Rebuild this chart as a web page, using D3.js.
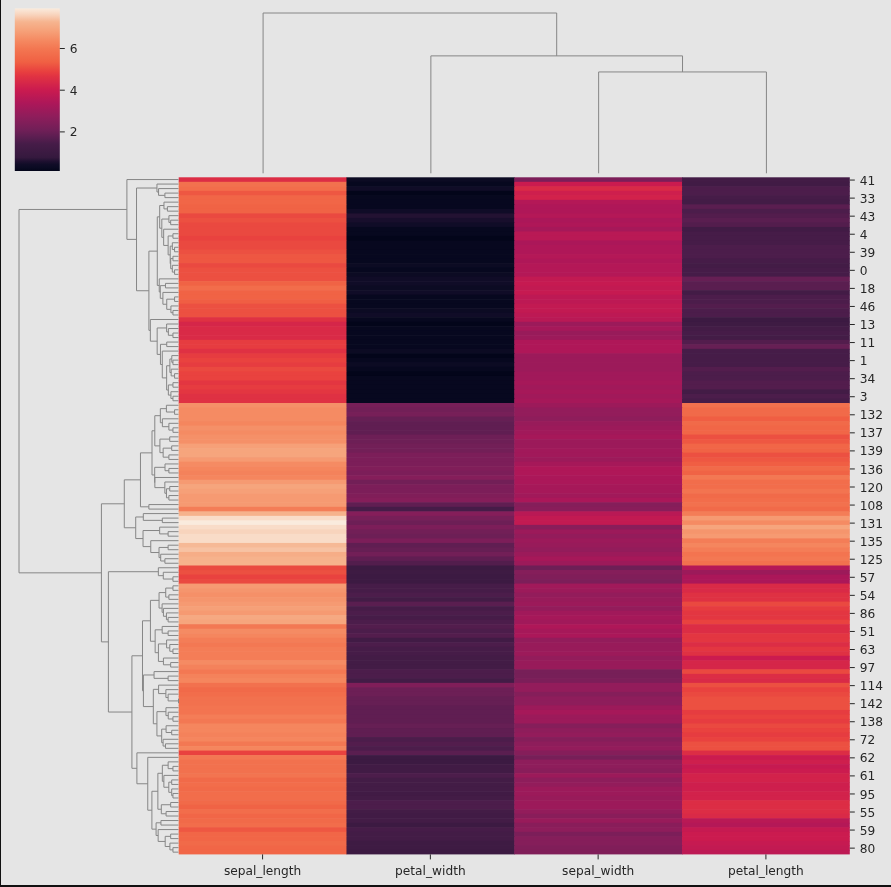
<!DOCTYPE html>
<html><head><meta charset="utf-8">
<script src="https://cdn.jsdelivr.net/npm/d3@7"></script>
<style>
html,body{margin:0;padding:0;background:#e5e5e5;overflow:hidden}
svg{display:block;filter:blur(0.4px)}
text{font-family:"DejaVu Sans",sans-serif;font-size:12.2px;fill:#262626}
</style></head><body>
<svg id="c" width="891" height="887"></svg>
<script>
const sepalLength=[5.1,4.9,4.7,4.6,5.0,5.4,4.6,5.0,4.4,4.9,5.4,4.8,4.8,4.3,5.8,5.7,5.4,5.1,5.7,5.1,5.4,5.1,4.6,5.1,4.8,5.0,5.0,5.2,5.2,4.7,4.8,5.4,5.2,5.5,4.9,5.0,5.5,4.9,4.4,5.1,5.0,4.5,4.4,5.0,5.1,4.8,5.1,4.6,5.3,5.0,7.0,6.4,6.9,5.5,6.5,5.7,6.3,4.9,6.6,5.2,5.0,5.9,6.0,6.1,5.6,6.7,5.6,5.8,6.2,5.6,5.9,6.1,6.3,6.1,6.4,6.6,6.8,6.7,6.0,5.7,5.5,5.5,5.8,6.0,5.4,6.0,6.7,6.3,5.6,5.5,5.5,6.1,5.8,5.0,5.6,5.7,5.7,6.2,5.1,5.7,6.3,5.8,7.1,6.3,6.5,7.6,4.9,7.3,6.7,7.2,6.5,6.4,6.8,5.7,5.8,6.4,6.5,7.7,7.7,6.0,6.9,5.6,7.7,6.3,6.7,7.2,6.2,6.1,6.4,7.2,7.4,7.9,6.4,6.3,6.1,7.7,6.3,6.4,6.0,6.9,6.7,6.9,5.8,6.8,6.7,6.7,6.3,6.5,6.2,5.9];
const sepalWidth=[3.5,3.0,3.2,3.1,3.6,3.9,3.4,3.4,2.9,3.1,3.7,3.4,3.0,3.0,4.0,4.4,3.9,3.5,3.8,3.8,3.4,3.7,3.6,3.3,3.4,3.0,3.4,3.5,3.4,3.2,3.1,3.4,4.1,4.2,3.1,3.2,3.5,3.6,3.0,3.4,3.5,2.3,3.2,3.5,3.8,3.0,3.8,3.2,3.7,3.3,3.2,3.2,3.1,2.3,2.8,2.8,3.3,2.4,2.9,2.7,2.0,3.0,2.2,2.9,2.9,3.1,3.0,2.7,2.2,2.5,3.2,2.8,2.5,2.8,2.9,3.0,2.8,3.0,2.9,2.6,2.4,2.4,2.7,2.7,3.0,3.4,3.1,2.3,3.0,2.5,2.6,3.0,2.6,2.3,2.7,3.0,2.9,2.9,2.5,2.8,3.3,2.7,3.0,2.9,3.0,3.0,2.5,2.9,2.5,3.6,3.2,2.7,3.0,2.5,2.8,3.2,3.0,3.8,2.6,2.2,3.2,2.8,2.8,2.7,3.3,3.2,2.8,3.0,2.8,3.0,2.8,3.8,2.8,2.8,2.6,3.0,3.4,3.1,3.0,3.1,3.1,3.1,2.7,3.2,3.3,3.0,2.5,3.0,3.4,3.0];
const petalLength=[1.4,1.4,1.3,1.5,1.4,1.7,1.4,1.5,1.4,1.5,1.5,1.6,1.4,1.1,1.2,1.5,1.3,1.4,1.7,1.5,1.7,1.5,1.0,1.7,1.9,1.6,1.6,1.5,1.4,1.6,1.6,1.5,1.5,1.4,1.5,1.2,1.3,1.4,1.3,1.5,1.3,1.3,1.3,1.6,1.9,1.4,1.6,1.4,1.5,1.4,4.7,4.5,4.9,4.0,4.6,4.5,4.7,3.3,4.6,3.9,3.5,4.2,4.0,4.7,3.6,4.4,4.5,4.1,4.5,3.9,4.8,4.0,4.9,4.7,4.3,4.4,4.8,5.0,4.5,3.5,3.8,3.7,3.9,5.1,4.5,4.5,4.7,4.4,4.1,4.0,4.4,4.6,4.0,3.3,4.2,4.2,4.2,4.3,3.0,4.1,6.0,5.1,5.9,5.6,5.8,6.6,4.5,6.3,5.8,6.1,5.1,5.3,5.5,5.0,5.1,5.3,5.5,6.7,6.9,5.0,5.7,4.9,6.7,4.9,5.7,6.0,4.8,4.9,5.6,5.8,6.1,6.4,5.6,5.1,5.6,6.1,5.6,5.5,4.8,5.4,5.6,5.1,5.1,5.9,5.7,5.2,5.0,5.2,5.4,5.1];
const petalWidth=[0.2,0.2,0.2,0.2,0.2,0.4,0.3,0.2,0.2,0.1,0.2,0.2,0.1,0.1,0.2,0.4,0.4,0.3,0.3,0.3,0.2,0.4,0.2,0.5,0.2,0.2,0.4,0.2,0.2,0.2,0.2,0.4,0.1,0.2,0.2,0.2,0.2,0.1,0.2,0.2,0.3,0.3,0.2,0.6,0.4,0.3,0.2,0.2,0.2,0.2,1.4,1.5,1.5,1.3,1.5,1.3,1.6,1.0,1.3,1.4,1.0,1.5,1.0,1.4,1.3,1.4,1.5,1.0,1.5,1.1,1.8,1.3,1.5,1.2,1.3,1.4,1.4,1.7,1.5,1.0,1.1,1.0,1.2,1.6,1.5,1.6,1.5,1.3,1.3,1.3,1.2,1.4,1.2,1.0,1.3,1.2,1.3,1.3,1.1,1.3,2.5,1.9,2.1,1.8,2.2,2.1,1.7,1.8,1.8,2.5,2.0,1.9,2.1,2.0,2.4,2.3,1.8,2.2,2.3,1.5,2.3,2.0,2.0,1.8,2.1,1.8,1.8,1.8,2.1,1.6,1.9,2.0,2.2,1.5,1.4,2.3,2.4,1.8,1.8,2.1,2.4,2.3,1.9,2.3,2.5,2.3,1.9,2.0,2.3,1.8];
const columnNames=["sepal_length","sepal_width","petal_length","petal_width"];
const rowTickLabels=[41,33,43,4,39,0,18,46,13,11,1,34,3,132,137,139,136,120,108,131,135,125,57,54,86,51,63,97,114,142,138,72,62,61,95,55,59,80];
const colorbarTicks=[2,4,6];
const rocketStops=["#03051a","#0a0a22","#100c27","#1f1030","#35193e","#461c48","#5c1e51","#701f57","#8e1d5b","#ad1759","#cb1b4f","#e13342","#e83f3f","#f06043","#f37651","#f58860","#f6a47c","#f6b48f","#f8d3bc","#faebdd"];
const rocketPositions=[0,0.02,0.04,0.06,0.0833,0.167,0.21,0.25,0.333,0.4167,0.5,0.5833,0.61,0.67,0.75,0.8,0.87,0.9167,0.96,1];

const columns=[sepalLength,sepalWidth,petalLength,petalWidth];
const rows=sepalLength.map((_,i)=>columns.map(c=>c[i]));

// average-linkage clustering of the values (nearest-neighbour chain)
function linkage(points){
  const n=points.length;
  const D=points.map(a=>points.map(b=>{let s=0;for(let k=0;k<a.length;k++){const d=a[k]-b[k];s+=d*d;}return Math.sqrt(s);}));
  const size=new Array(n).fill(1),chain=[],Z=[];
  for(let k=0;k<n-1;k++){
    if(!chain.length) chain.push(size.findIndex(s=>s>0));
    let x,y,cur;
    while(true){
      x=chain[chain.length-1];
      if(chain.length>1){y=chain[chain.length-2];cur=D[x][y];}else cur=Infinity;
      for(let i=0;i<n;i++){
        if(size[i]===0||i===x)continue;
        if(D[x][i]<cur){cur=D[x][i];y=i;}
      }
      if(chain.length>1&&y===chain[chain.length-2])break;
      chain.push(y);
    }
    chain.length-=2;
    if(x>y)[x,y]=[y,x];
    const nx=size[x],ny=size[y];
    Z.push([x,y,cur,k]);
    size[x]=0;size[y]=nx+ny;
    for(let i=0;i<n;i++){
      if(size[i]===0||i===y)continue;
      const v=(nx*D[i][x]+ny*D[i][y])/(nx+ny);
      D[i][y]=v;D[y][i]=v;
    }
  }
  Z.sort((a,b)=>a[2]-b[2]||a[3]-b[3]);
  const parent=d3.range(2*n-1);
  const find=a=>{while(parent[a]!==a)a=parent[a];return a;};
  let next=n;
  return Z.map(z=>{
    const a=find(z[0]),b=find(z[1]);
    parent[a]=next;parent[b]=next;next++;
    return [Math.min(a,b),Math.max(a,b),z[2]];
  });
}
function toTree(Z,n){
  const node=id=>id<n?{id,h:0}:{id,h:Z[id-n][2],children:[node(Z[id-n][0]),node(Z[id-n][1])]};
  return node(2*n-2);
}
const rowTree=toTree(linkage(rows),rows.length);
const colTree=toTree(linkage(columns),columns.length);
const leaves=t=>t.children?t.children.flatMap(leaves):[t.id];
const rowOrder=leaves(rowTree),colOrder=leaves(colTree);

const heat={x0:178.7,x1:849.8,y0:177.3,y1:854.4};
const svg=d3.select("#c");
const xBand=d3.scaleBand().domain(colOrder).range([heat.x0,heat.x1]);
const yBand=d3.scaleBand().domain(rowOrder).range([heat.y0,heat.y1]);
const vmin=d3.min(columns.flat()),vmax=d3.max(columns.flat());
const color=d3.scaleLinear().domain(rocketPositions.map(p=>vmin+p*(vmax-vmin))).range(rocketStops).interpolate(d3.interpolateRgb);

// heatmap
const cells=svg.append("g").style("filter","blur(0.5px)");
rowOrder.forEach(r=>colOrder.forEach(c=>{
  cells.append("rect").attr("x",xBand(c)).attr("y",yBand(r))
    .attr("width",xBand.bandwidth()+(c===colOrder[colOrder.length-1]?0:0.6))
    .attr("height",yBand.bandwidth()+(r===rowOrder[rowOrder.length-1]?0:0.6))
    .attr("fill",color(columns[c][r]));
}));

// dendrograms
const lineColor="#868686";
function drawTree(tree,band,depth,horizontal){
  const g=svg.append("g").attr("fill","none").attr("stroke",lineColor).attr("stroke-width",1);
  const path=d3.line().x(d=>horizontal?depth(d[1]):d[0]).y(d=>horizontal?d[0]:depth(d[1]));
  (function walk(t){
    if(!t.children)return band(t.id);
    const [a,b]=t.children,pa=walk(a),pb=walk(b);
    g.append("path").attr("d",path([[pa,a.h],[pa,t.h],[pb,t.h],[pb,b.h]]));
    return (pa+pb)/2;
  })(tree);
}
const colDepth=d3.scaleLinear().domain([0,colTree.h]).range([173.3,13]);
const rowDepth=d3.scaleLinear().domain([0,rowTree.h]).range([178.5,19]);
drawTree(colTree,c=>xBand(c)+xBand.bandwidth()/2+0.5,colDepth,false);
drawTree(rowTree,r=>yBand(r)+yBand.bandwidth()/2,rowDepth,true);

// axes
const rowScale=r=>yBand(+r)+yBand.bandwidth()/2;
rowScale.copy=()=>rowScale;rowScale.domain=()=>rowOrder;rowScale.range=()=>[heat.y0,heat.y1];
const styleAxis=g=>{g.select(".domain").remove();g.selectAll("line").attr("stroke","#262626");g.selectAll("text").attr("fill",null).style("font-size","12.2px").style("font-family",'"DejaVu Sans"');};
svg.append("g").attr("transform",`translate(${heat.x1},0)`)
  .call(d3.axisRight(rowScale).tickValues(rowTickLabels).tickSize(5).tickPadding(5)).call(styleAxis)
  .selectAll("text").attr("dy","0.72em").attr("y",-4.2);
const colNameScale=d3.scaleBand().domain(colOrder.map(c=>columnNames[c])).range([heat.x0,heat.x1]);
svg.append("g").attr("transform",`translate(0,${heat.y1})`)
  .call(d3.axisBottom(colNameScale).tickSize(5).tickPadding(7)).call(styleAxis);

// colorbar
const cb={x0:14.8,x1:59.8,y0:8.4,y1:171};
const grad=svg.append("defs").append("linearGradient").attr("id","rocket").attr("x1",0).attr("x2",0).attr("y1",1).attr("y2",0);
rocketPositions.forEach((p,i)=>grad.append("stop").attr("offset",p).attr("stop-color",rocketStops[i]));
svg.append("rect").attr("x",cb.x0).attr("y",cb.y0).attr("width",cb.x1-cb.x0).attr("height",cb.y1-cb.y0).attr("fill","url(#rocket)");
const cbScale=d3.scaleLinear().domain([vmin,vmax]).range([cb.y1,cb.y0]);
svg.append("g").attr("transform",`translate(${cb.x1},0)`)
  .call(d3.axisRight(cbScale).tickValues(colorbarTicks).tickSize(5).tickPadding(5).tickFormat(d3.format("d"))).call(styleAxis)
  .selectAll("text").attr("dy","0.72em").attr("y",-4.2);

// screenshot frame
svg.append("rect").attr("x",0).attr("y",0).attr("width",1).attr("height",887).attr("fill","#111");
svg.append("rect").attr("x",0).attr("y",885).attr("width",891).attr("height",2).attr("fill","#111");
</script>
</body></html>
